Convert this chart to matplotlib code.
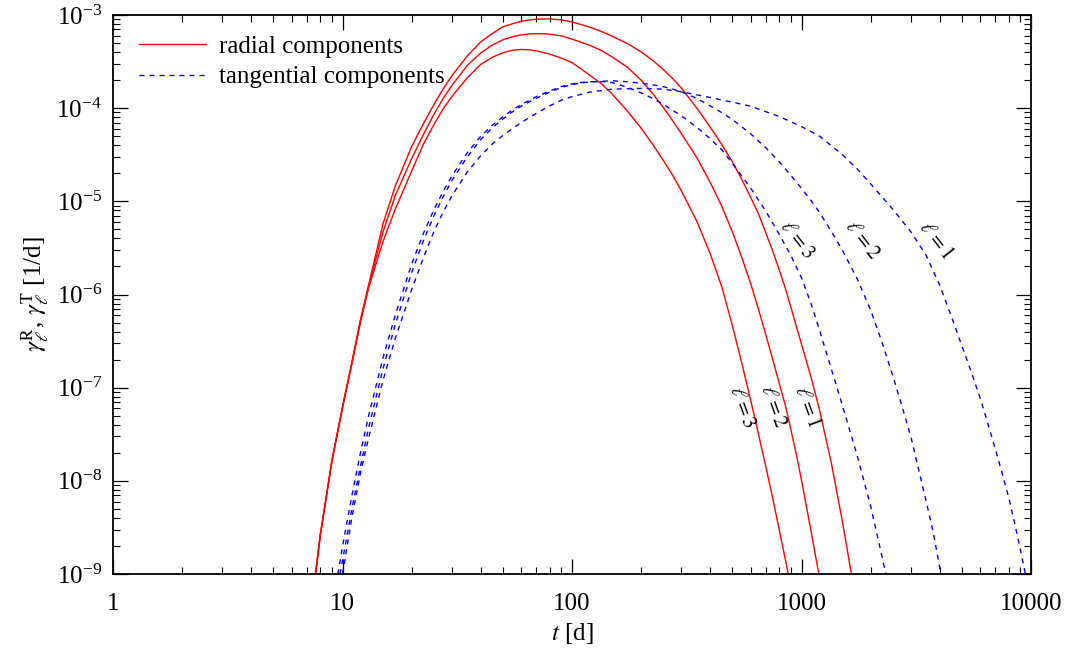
import matplotlib
matplotlib.use("Agg")
import matplotlib.pyplot as plt
from matplotlib import ticker

plt.rcParams['font.family'] = ['Liberation Serif', 'DejaVu Serif']
plt.rcParams['mathtext.fontset'] = 'stix'

# ---- data (t in days, gamma in 1/d) ----
# radial components
t_R1 = [7.63, 8, 9, 10, 11, 12, 13, 15, 17, 20, 22.5, 25, 27.5, 30, 35, 40, 45, 50, 55, 60,
        65, 70, 80, 90, 100, 110, 120, 135, 150, 175, 200, 225, 250, 275, 300, 350, 400, 450,
        500, 550, 600, 650, 700, 750, 800, 850, 900, 950, 1000, 1100, 1200, 1350, 1500, 1650]
g_R1 = [1e-9, 2.62e-9, 1.68e-8, 6.23e-8, 1.90e-7, 5.47e-7, 1.27e-6, 5.69e-6, 1.47e-5, 3.85e-5,
        6.8e-5, 1.09e-4, 1.62e-4, 2.24e-4, 3.64e-4, 5.14e-4, 6.35e-4, 7.48e-4, 8.05e-4, 8.55e-4,
        8.85e-4, 9.02e-4, 9.08e-4, 8.87e-4, 8.43e-4, 7.87e-4, 7.38e-4, 6.62e-4, 5.90e-4, 4.91e-4,
        4.02e-4, 3.25e-4, 2.60e-4, 2.07e-4, 1.64e-4, 1.0e-4, 6.27e-5, 4.05e-5, 2.65e-5, 1.71e-5,
        1.11e-5, 7.31e-6, 4.54e-6, 2.90e-6, 1.83e-6, 1.17e-6, 7.23e-7, 4.53e-7, 2.92e-7, 1.30e-7,
        5.66e-8, 1.54e-8, 3.9e-9, 1e-9]

t_R2 = [7.63, 8, 9, 10, 11, 12, 13, 15, 17, 20, 22.5, 25, 27.5, 30, 35, 40, 45, 50, 55, 60,
        65, 70, 75, 80, 90, 100, 110, 120, 135, 150, 175, 200, 225, 250, 275, 300, 350, 400,
        450, 500, 550, 600, 650, 700, 750, 800, 850, 900, 950, 1000, 1100, 1190]
g_R2 = [1e-9, 2.6e-9, 1.66e-8, 6.15e-8, 1.87e-7, 5.35e-7, 1.22e-6, 4.67e-6, 1.16e-5, 2.87e-5,
        5.2e-5, 8.57e-5, 1.28e-4, 1.76e-4, 2.88e-4, 3.91e-4, 4.77e-4, 5.42e-4, 5.84e-4, 6.11e-4,
        6.26e-4, 6.31e-4, 6.3e-4, 6.22e-4, 5.97e-4, 5.51e-4, 5.08e-4, 4.71e-4, 4.13e-4, 3.53e-4,
        2.73e-4, 2.0e-4, 1.43e-4, 1.02e-4, 7.28e-5, 5.31e-5, 2.94e-5, 1.6e-5, 8.8e-6, 4.7e-6,
        2.48e-6, 1.32e-6, 6.9e-7, 3.65e-7, 1.99e-7, 1.11e-7, 6.5e-8, 3.5e-8, 1.9e-8, 1.02e-8,
        2.9e-9, 1e-9]

t_R3 = [7.63, 8, 9, 10, 11, 12, 13, 15, 17, 20, 22.5, 25, 27.5, 30, 35, 40, 45, 50, 55, 60,
        65, 70, 80, 90, 100, 110, 120, 135, 150, 175, 200, 225, 250, 275, 300, 350, 400, 450,
        500, 550, 600, 650, 700, 750, 800, 876]
g_R3 = [1e-9, 2.58e-9, 1.64e-8, 6.05e-8, 1.83e-7, 5.2e-7, 1.18e-6, 3.68e-6, 8.3e-6, 2.11e-5,
        4.08e-5, 6.65e-5, 9.9e-5, 1.34e-4, 2.12e-4, 2.95e-4, 3.52e-4, 3.94e-4, 4.18e-4, 4.27e-4,
        4.23e-4, 4.12e-4, 3.80e-4, 3.44e-4, 3.08e-4, 2.62e-4, 2.24e-4, 1.81e-4, 1.41e-4, 9.2e-5,
        6.1e-5, 4.07e-5, 2.75e-5, 1.89e-5, 1.29e-5, 6.1e-6, 2.75e-6, 1.2e-6, 4.6e-7, 1.81e-7,
        7.4e-8, 3.15e-8, 1.4e-8, 6.4e-9, 2.98e-9, 1e-9]

# tangential components
t_T1 = [10, 11, 12, 13, 15, 17, 20, 22.5, 25, 27.5, 30, 35, 40, 45, 50, 60, 70, 80, 90, 100,
        120, 150, 200, 250, 300, 350, 400, 500, 600, 700, 800, 1000, 1200, 1500, 1750, 2000,
        2250, 2500, 3000, 3500, 4000, 4500, 5000, 5500, 6000, 6500, 7000, 7500, 8000, 8500,
        9000, 9450]
g_T1 = [1e-9, 4.11e-9, 1.24e-8, 2.89e-8, 1.19e-7, 3.40e-7, 1.12e-6, 2.47e-6, 4.71e-6, 7.76e-6,
        1.15e-5, 2.07e-5, 3.08e-5, 4.13e-5, 5.10e-5, 7.0e-5, 8.81e-5, 1.06e-4, 1.22e-4, 1.33e-4,
        1.49e-4, 1.60e-4, 1.63e-4, 1.60e-4, 1.50e-4, 1.39e-4, 1.30e-4, 1.16e-4, 1.05e-4, 9.16e-5,
        8.13e-5, 6.34e-5, 5.0e-5, 3.20e-5, 2.22e-5, 1.54e-5, 1.11e-5, 8.2e-6, 4.69e-6, 2.61e-6,
        1.26e-6, 5.8e-7, 2.8e-7, 1.46e-7, 7.8e-8, 4.05e-8, 2.17e-8, 1.19e-8, 6.6e-9, 3.44e-9,
        1.8e-9, 1e-9]

t_T2 = [9.75, 10, 11, 12, 13, 15, 17, 20, 22.5, 25, 27.5, 30, 35, 40, 45, 50, 55, 60, 70, 80,
        90, 100, 110, 120, 135, 150, 175, 200, 225, 250, 275, 300, 350, 400, 450, 500, 600, 700,
        800, 900, 1000, 1100, 1200, 1350, 1500, 1750, 2000, 2250, 2500, 2750, 3000, 3500, 3750,
        4050]
g_T2 = [1e-9, 1.4e-9, 5.1e-9, 1.47e-8, 3.72e-8, 1.58e-7, 4.8e-7, 1.71e-6, 3.78e-6, 6.96e-6,
        1.13e-5, 1.68e-5, 3.01e-5, 4.6e-5, 6.17e-5, 7.67e-5, 9.14e-5, 1.05e-4, 1.28e-4, 1.49e-4,
        1.67e-4, 1.79e-4, 1.87e-4, 1.91e-4, 1.94e-4, 1.97e-4, 1.92e-4, 1.85e-4, 1.78e-4, 1.70e-4,
        1.60e-4, 1.50e-4, 1.27e-4, 1.06e-4, 8.93e-5, 7.55e-5, 5.32e-5, 3.74e-5, 2.66e-5, 1.89e-5,
        1.38e-5, 1.02e-5, 7.57e-6, 4.73e-6, 3.05e-6, 1.47e-6, 6.84e-7, 3.0e-7, 1.34e-7, 6.14e-8,
        2.94e-8, 5.9e-9, 2.8e-9, 1e-9]

t_T3 = [9.55, 10, 11, 12, 13, 15, 17, 20, 22.5, 25, 27.5, 30, 35, 40, 45, 50, 55, 60, 70, 80,
        90, 100, 110, 120, 135, 150, 175, 200, 225, 250, 300, 350, 400, 450, 500, 600, 700, 800,
        900, 1000, 1100, 1200, 1350, 1500, 1750, 2000, 2200, 2330]
g_T3 = [1e-9, 1.98e-9, 7.04e-9, 2.05e-8, 5.02e-8, 2.07e-7, 6.05e-7, 2.11e-6, 4.51e-6, 8.09e-6,
        1.29e-5, 1.88e-5, 3.33e-5, 4.98e-5, 6.58e-5, 8.07e-5, 9.59e-5, 1.09e-4, 1.33e-4, 1.53e-4,
        1.71e-4, 1.82e-4, 1.89e-4, 1.92e-4, 1.93e-4, 1.88e-4, 1.67e-4, 1.46e-4, 1.27e-4, 1.10e-4,
        8.26e-5, 6.22e-5, 4.70e-5, 3.56e-5, 2.56e-5, 1.39e-5, 7.8e-6, 4.41e-6, 2.61e-6, 1.51e-6,
        8.0e-7, 4.08e-7, 1.58e-7, 6.69e-8, 1.85e-8, 5.37e-9, 1.9e-9, 1e-9]

legend_labels = ["radial components", "tangential components"]
curve_labels = [r"$\ell=1$", r"$\ell=2$", r"$\ell=3$"]
# label anchor positions (t, gamma)
lab_R_t = [1051, 752, 548]
lab_R_g = [6.2e-8, 6.2e-8, 6.2e-8]
lab_T_t = [3811, 1826, 951]
lab_T_g = [3.8e-6, 3.8e-6, 3.8e-6]

# ---- figure ----
fig = plt.figure(figsize=(10.71, 6.52), dpi=100)
ax = fig.add_axes([113 / 1071, 1 - 574 / 652, 918 / 1071, 559 / 652])
ax.set_xscale('log')
ax.set_yscale('log')
ax.set_xlim(1, 10000)
ax.set_ylim(1e-9, 1e-3)

red = '#ff0000'
blue = '#0000ff'
lw = 1.0
lr, = ax.plot(t_R1, g_R1, color=red, lw=lw)
ax.plot(t_R2, g_R2, color=red, lw=lw)
ax.plot(t_R3, g_R3, color=red, lw=lw)
lt, = ax.plot(t_T1, g_T1, color=blue, lw=lw, dashes=(3.6, 3.6))
ax.plot(t_T2, g_T2, color=blue, lw=lw, dashes=(3.6, 3.6))
ax.plot(t_T3, g_T3, color=blue, lw=lw, dashes=(3.6, 3.6))

for tt, gg, s in zip(lab_R_t, lab_R_g, curve_labels):
    ax.text(tt, gg, s, rotation=-70, ha='center', va='center', fontsize=15,
            rotation_mode='anchor')
for tt, gg, s in zip(lab_T_t, lab_T_g, curve_labels):
    ax.text(tt, gg, s, rotation=-52, ha='center', va='center', fontsize=15,
            rotation_mode='anchor')

ax.legend([lr, lt], legend_labels, loc='upper left', bbox_to_anchor=(0.0065, 1.0),
          frameon=False, fontsize=18, handlelength=2.7, handletextpad=0.5,
          labelspacing=0.33, borderpad=0.5, borderaxespad=0.3)

# ticks
ax.xaxis.set_major_locator(ticker.LogLocator(base=10, numticks=10))
ax.xaxis.set_minor_locator(ticker.LogLocator(base=10, subs=range(2, 10), numticks=20))
ax.xaxis.set_major_formatter(ticker.FuncFormatter(lambda v, p: f"{v:g}"))
ax.xaxis.set_minor_formatter(ticker.NullFormatter())
ax.yaxis.set_major_locator(ticker.LogLocator(base=10, numticks=10))
ax.yaxis.set_minor_locator(ticker.LogLocator(base=10, subs=range(2, 10), numticks=20))
ax.yaxis.set_minor_formatter(ticker.NullFormatter())
ax.tick_params(which='both', direction='in', top=True, right=True, labelsize=18)
ax.tick_params(which='major', length=10.5, width=0.9)
ax.tick_params(which='minor', length=5, width=0.8)
ax.tick_params(axis='x', which='major', pad=14)
ax.tick_params(axis='y', which='major', pad=8)
ax.xaxis.get_offset_text().set_visible(False)
ax.yaxis.get_offset_text().set_visible(False)
for sp in ax.spines.values():
    sp.set_linewidth(1.3)

ax.set_xlabel(r"$t$ [d]", fontsize=18, labelpad=4)
ax.set_ylabel(r"$\gamma_\ell^{\mathrm{R}}$, $\gamma_\ell^{\mathrm{T}}$ [1/d]", fontsize=18,
              labelpad=4)

fig.savefig("out.png", dpi=100)
